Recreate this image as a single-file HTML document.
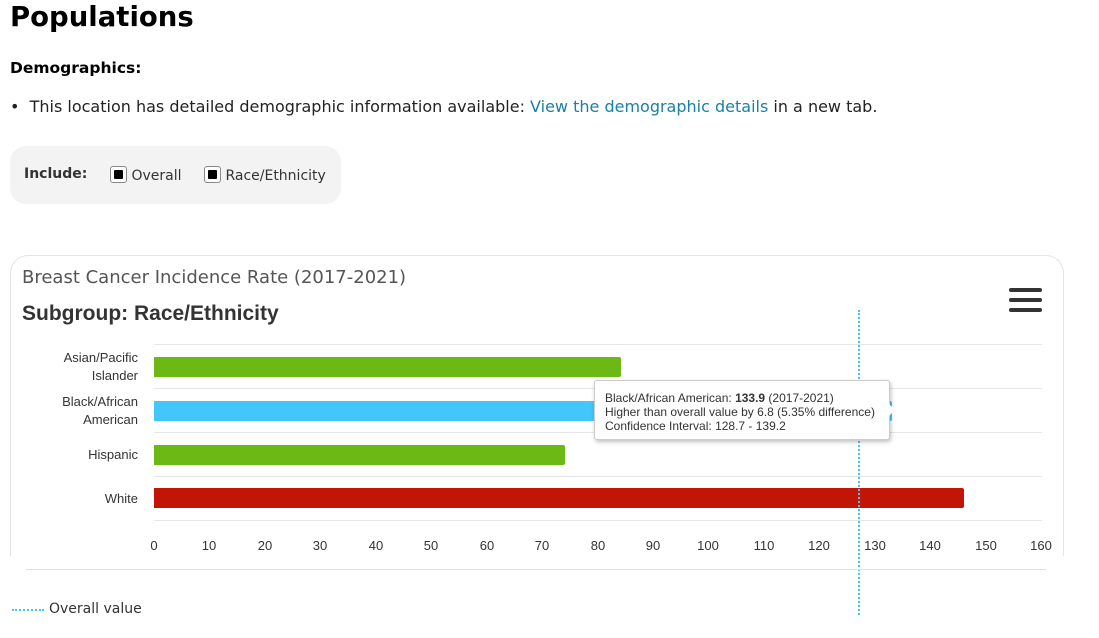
<!DOCTYPE html>
<html><head><meta charset="utf-8"><style>
body{margin:0;width:1099px;height:638px;background:#fff;font-family:"Liberation Sans",sans-serif;position:relative;overflow:hidden}
.a{position:absolute;white-space:nowrap}
.os{font-family:"DejaVu Sans","Liberation Sans",sans-serif}
.cb{display:inline-block;width:15px;height:15px;border:1px solid #888;border-radius:3px;background:#fff;position:relative;vertical-align:-3px}
.cb:after{content:"";position:absolute;left:3px;top:3px;width:9px;height:9px;background:#000;border-radius:1px}
.grid{position:absolute;left:154px;width:888px;height:1px;background:#e6e6e6}
.bar{position:absolute;left:154px;height:20px;border-radius:0 2px 2px 0}
.yl{position:absolute;right:961px;text-align:right;font-size:13px;color:#333;line-height:18px}
.xl{position:absolute;top:538px;font-size:13px;color:#333;width:40px;text-align:center}
</style></head><body>
<div class="a os" style="left:10px;top:1px;font-size:27.5px;font-weight:bold;color:#000">Populations</div>
<div class="a os" style="left:10px;top:59px;font-size:15.5px;font-weight:bold">Demographics:</div>
<div class="a os" style="left:10px;top:97px;font-size:16px;color:#222">•&nbsp; This location has detailed demographic information available: <span style="color:#1a7fa8">View the demographic details</span> in a new tab.</div>
<div class="a" style="left:10px;top:146px;width:331px;height:58px;background:#f3f3f3;border-radius:16px"></div>
<div class="a os" style="left:24px;top:166px;font-size:14px;font-weight:bold;color:#333">Include:</div>
<div class="a os" style="left:110px;top:166px;font-size:14px;color:#333"><span class="cb"></span> Overall</div>
<div class="a os" style="left:204px;top:166px;font-size:14px;color:#333"><span class="cb"></span> Race/Ethnicity</div>
<div class="a" style="left:10px;top:255px;width:1052px;height:300px;border:1px solid #e4e4e4;border-bottom:none;border-radius:18px 18px 0 0"></div>
<div class="a os" style="left:22px;top:267px;font-size:18px;color:#555">Breast Cancer Incidence Rate (2017-2021)</div>
<div class="a" style="left:22px;top:302px;font-size:21px;font-weight:bold;color:#333">Subgroup: Race/Ethnicity</div>
<div class="a" style="left:1009px;top:288px;width:33px;height:4px;background:#333;border-radius:2px"></div>
<div class="a" style="left:1009px;top:298px;width:33px;height:4px;background:#333;border-radius:2px"></div>
<div class="a" style="left:1009px;top:308px;width:33px;height:4px;background:#333;border-radius:2px"></div>
<div class="grid" style="top:344px"></div><div class="grid" style="top:388px"></div><div class="grid" style="top:432px"></div><div class="grid" style="top:476px"></div><div class="grid" style="top:520px"></div>
<div class="bar" style="top:357px;width:467px;background:#6cb814"></div>
<div class="bar" style="top:401px;width:738px;background:#45c6fa"></div>
<div class="bar" style="top:445px;width:411px;background:#6cb814"></div>
<div class="bar" style="top:488px;width:810px;background:#c21505"></div>
<div class="yl" style="top:349px">Asian/Pacific<br>Islander</div>
<div class="yl" style="top:393px">Black/African<br>American</div>
<div class="yl" style="top:446px">Hispanic</div>
<div class="yl" style="top:490px">White</div>
<div class="xl" style="left:134px">0</div><div class="xl" style="left:189px">10</div><div class="xl" style="left:245px">20</div><div class="xl" style="left:300px">30</div><div class="xl" style="left:356px">40</div><div class="xl" style="left:411px">50</div><div class="xl" style="left:467px">60</div><div class="xl" style="left:522px">70</div><div class="xl" style="left:578px">80</div><div class="xl" style="left:633px">90</div><div class="xl" style="left:688px">100</div><div class="xl" style="left:744px">110</div><div class="xl" style="left:799px">120</div><div class="xl" style="left:855px">130</div><div class="xl" style="left:910px">140</div><div class="xl" style="left:966px">150</div><div class="xl" style="left:1021px">160</div>
<div class="a" style="left:858px;top:310px;height:305px;border-left:2px dotted #45c6fa"></div>
<div class="a" style="left:594px;top:380px;width:296px;height:60px;background:#fff;border:1px solid #ccc;border-radius:3px;box-shadow:1px 2px 4px rgba(0,0,0,.25);font-size:12px;color:#333;line-height:14px;padding:10px 0 0 10px;box-sizing:border-box">Black/African American: <b>133.9</b> (2017-2021)<br>Higher than overall value by 6.8 (5.35% difference)<br>Confidence Interval: 128.7 - 139.2</div>
<div class="a" style="left:889px;top:404px;width:0;height:0;border-top:6px solid transparent;border-bottom:6px solid transparent;border-left:6px solid #fff"></div>
<div class="a" style="left:26px;top:569px;width:1020px;height:1px;background:#e0e0e0"></div>
<div class="a" style="left:12px;top:609px;width:32px;border-top:2px dotted #45c6fa"></div>
<div class="a os" style="left:49px;top:601px;font-size:14px;color:#333">Overall value</div>
</body></html>
